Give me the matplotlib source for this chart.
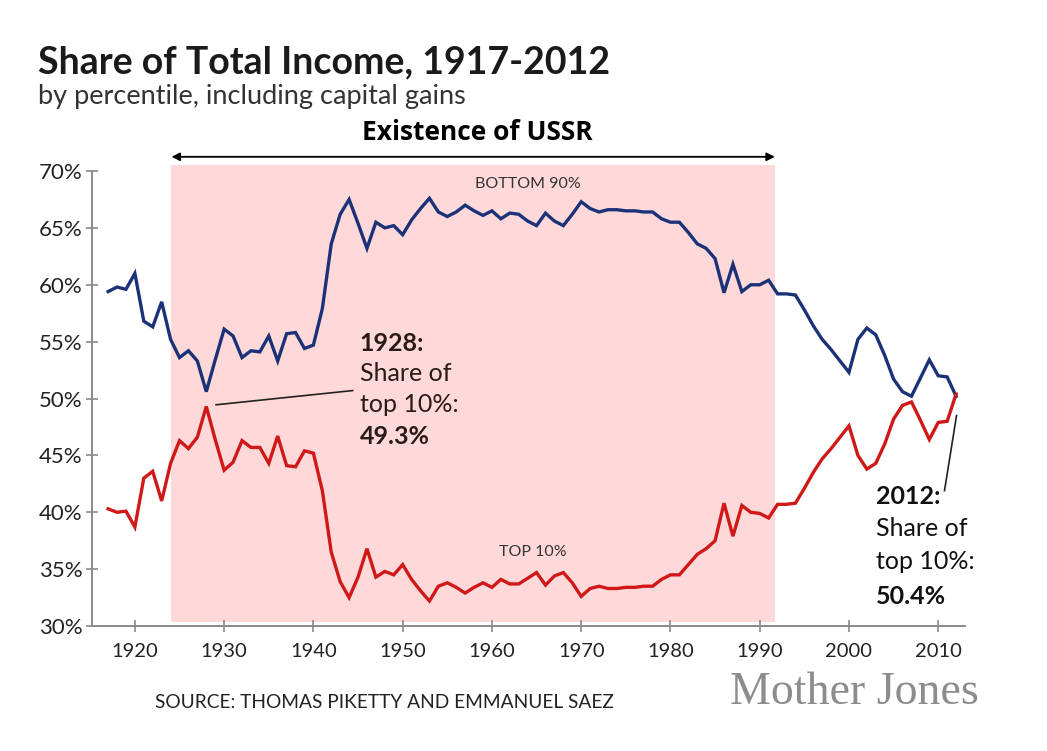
import numpy as np
import matplotlib.pyplot as plt

plt.rcParams['font.family'] = ['Lato', 'DejaVu Sans']

# share of total income (%), including capital gains
years = list(range(1917, 2013))

top10 = [40.3, 40.0, 40.1, 38.7, 43.0, 43.6, 41.0, 44.3, 46.3, 45.6,
         46.6, 49.3, 46.4, 43.7, 44.4, 46.3, 45.7, 45.7, 44.3, 46.7,
         44.1, 44.0, 45.4, 45.2, 41.9, 36.5, 33.9, 32.5, 34.3, 36.8,
         34.3, 34.8, 34.5, 35.4, 34.1, 33.1, 32.2, 33.5, 33.8, 33.4,
         32.9, 33.4, 33.8, 33.4, 34.1, 33.7, 33.7, 34.2, 34.7, 33.6,
         34.4, 34.7, 33.8, 32.6, 33.3, 33.5, 33.3, 33.3, 33.4, 33.4,
         33.5, 33.5, 34.1, 34.5, 34.5, 35.4, 36.3, 36.8, 37.5, 40.8,
         37.9, 40.6, 40.0, 39.9, 39.5, 40.7, 40.7, 40.8, 42.1, 43.5,
         44.7, 45.6, 46.6, 47.6, 45.0, 43.8, 44.3, 46.0, 48.2, 49.4,
         49.7, 48.1, 46.4, 47.9, 48.0, 50.4]

bottom90 = [59.4, 59.8, 59.6, 61.0, 56.8, 56.3, 58.5, 55.2, 53.6, 54.2,
            53.3, 50.6, 53.4, 56.1, 55.5, 53.6, 54.2, 54.1, 55.5, 53.3,
            55.7, 55.8, 54.4, 54.7, 57.9, 63.6, 66.2, 67.5, 65.4, 63.2,
            65.5, 65.0, 65.2, 64.4, 65.7, 66.7, 67.6, 66.4, 66.0, 66.4,
            67.0, 66.5, 66.1, 66.5, 65.8, 66.3, 66.2, 65.6, 65.2, 66.3,
            65.6, 65.2, 66.2, 67.3, 66.7, 66.4, 66.6, 66.6, 66.5, 66.5,
            66.4, 66.4, 65.8, 65.5, 65.5, 64.6, 63.6, 63.2, 62.3, 59.3,
            61.8, 59.4, 60.0, 60.0, 60.4, 59.2, 59.2, 59.1, 57.8, 56.4,
            55.2, 54.3, 53.3, 52.3, 55.2, 56.2, 55.6, 53.8, 51.7, 50.6,
            50.2, 51.8, 53.4, 52.0, 51.9, 50.2]

ussr_start, ussr_end = 1924.1, 1991.7

yticks = [30, 35, 40, 45, 50, 55, 60, 65, 70]
xticks = [1920, 1930, 1940, 1950, 1960, 1970, 1980, 1990, 2000, 2010]

BLUE = '#1c3278'
RED = '#d01818'
PINK = '#ffd9d9'
GREY = '#8a8a8a'

fig = plt.figure(figsize=(10.47, 7.51), dpi=100)
ax = fig.add_axes([0.0879, 0.1664, 0.8338, 0.6139])

ax.axvspan(ussr_start, ussr_end, ymin=0.008, ymax=1, color=PINK, lw=0, zorder=0)

ax.plot(years, bottom90, color=BLUE, lw=2.4, solid_joinstyle='miter', zorder=3)
ax.plot(years, top10, color=RED, lw=2.4, solid_joinstyle='miter', zorder=3)

ax.set_xlim(1915.2, 2013.0)
ax.set_ylim(30, 70.53)

for s in ['top', 'right']:
    ax.spines[s].set_visible(False)
for s in ['left', 'bottom']:
    ax.spines[s].set_color(GREY)
    ax.spines[s].set_linewidth(1.4)
ax.spines['left'].set_bounds(30, 70)

ax.set_yticks(yticks)
ax.set_yticklabels([f'{v}%' for v in yticks])
ax.set_xticks(xticks)
ax.set_xticklabels([str(v) for v in xticks])
ax.tick_params(axis='both', direction='inout', length=8, width=1.2, color=GREY,
               labelcolor='#222222')
ax.tick_params(axis='y', labelsize=16, pad=3)
ax.tick_params(axis='x', labelsize=14.5, pad=8)
ax.set_facecolor('none')

# USSR arrow
ax.annotate('', xy=(ussr_start, 71.25), xytext=(ussr_end, 71.25),
            arrowprops=dict(arrowstyle='<|-|>', color='black', lw=1.3,
                            mutation_scale=12, shrinkA=0, shrinkB=0),
            annotation_clip=False)
ax.text((ussr_start + ussr_end) / 2 + 0.5, 72.2, 'Existence of USSR', ha='center',
        va='bottom', fontsize=19, fontweight='bold', family=['Open Sans', 'DejaVu Sans'])

# series labels
ax.text(1964.0, 68.9, 'BOTTOM 90%', ha='center', va='center', fontsize=11.5, color='#333333')
ax.text(1964.6, 36.5, 'TOP 10%', ha='center', va='center', fontsize=11.5, color='#333333')

# 1928 callout
ax.plot([1929.1, 1944.4], [49.45, 50.7], color='#222222', lw=1.2, zorder=4)
tx = 1945.2
ax.text(tx, 54.85, '1928:', fontsize=18, fontweight='bold', va='center', color='#2a1a1a')
ax.text(tx, 52.2, 'Share of', fontsize=18, va='center', color='#2a1a1a')
ax.text(tx, 49.5, 'top 10%:', fontsize=18, va='center', color='#2a1a1a')
ax.text(tx, 46.7, '49.3%', fontsize=18, fontweight='bold', va='center', color='#2a1a1a')

# 2012 callout
ax.plot([2012.05, 2010.7], [48.5, 41.9], color='#222222', lw=1.2, zorder=4, clip_on=False)
tx = 2003.0
ax.text(tx, 41.4, '2012:', fontsize=18, fontweight='bold', va='center', color='#111111')
ax.text(tx, 38.6, 'Share of', fontsize=18, va='center', color='#111111')
ax.text(tx, 35.7, 'top 10%:', fontsize=18, va='center', color='#111111')
ax.text(tx, 32.6, '50.4%', fontsize=18, fontweight='bold', va='center', color='#111111')

# titles and credits
fig.text(0.036, 0.902, 'Share of Total Income, 1917-2012', fontsize=27, fontweight='bold',
         color='#1a1a1a', va='baseline')
fig.text(0.036, 0.861, 'by percentile, including capital gains', fontsize=19.5,
         color='#333333', va='baseline')
fig.text(0.148, 0.057, 'SOURCE: THOMAS PIKETTY AND EMMANUEL SAEZ', fontsize=13.8,
         color='#222222', va='baseline')
fig.text(0.697, 0.062, 'Mother Jones', fontsize=33, color='#8c8c8c', va='baseline',
         family=['Liberation Serif', 'DejaVu Serif'])

fig.savefig('out.png', dpi=100, facecolor='white')
